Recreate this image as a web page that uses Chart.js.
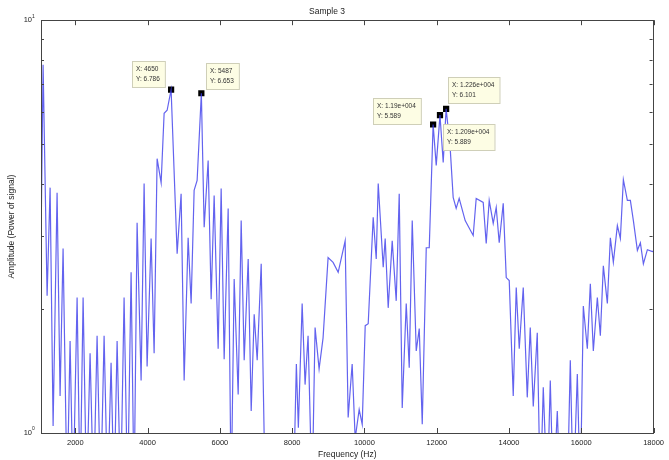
<!DOCTYPE html>
<html>
<head>
<meta charset="utf-8">
<script src="https://cdn.jsdelivr.net/npm/chart.js@4.4.0/dist/chart.umd.min.js"></script>
<style>
  html, body { margin: 0; padding: 0; background: #fff; }
</style>
</head>
<body>
<canvas id="myChart" width="669" height="460"></canvas>
<script>
// spectrum (Hz / amplitude), dips below 1 fall off the log axis
const freq = [1053, 1108, 1219, 1302, 1385, 1495, 1578, 1661, 1772, 1855, 1938, 2049, 2132, 2215, 2312, 2408, 2505, 2602, 2700, 2796,
  2893, 2989, 3072, 3156, 3253, 3349, 3446, 3543, 3626, 3709, 3820, 3903, 3986, 4097, 4180, 4263, 4374, 4457, 4540, 4650,
  4817, 4927, 5011, 5121, 5204, 5287, 5370, 5487, 5565, 5675, 5758, 5841, 5952, 6035, 6118, 6229, 6312, 6395, 6506, 6589,
  6672, 6783, 6866, 6949, 7032, 7143, 7254, 8033, 8116, 8171, 8276, 8357, 8440, 8551, 8634, 8745, 8855, 8994, 9132, 9273,
  9466, 9549, 9660, 9743, 9854, 9938, 10021, 10104, 10242, 10326, 10381, 10519, 10574, 10657, 10768, 10879, 10962, 11045, 11156, 11239,
  11322, 11433, 11516, 11599, 11710, 11793, 11900, 11986, 12090, 12179, 12260, 12371, 12455, 12538, 12621, 12787, 13009, 13092, 13286, 13369,
  13452, 13563, 13646, 13729, 13840, 13923, 14006, 14117, 14200, 14283, 14394, 14505, 14588, 14671, 14782, 14865, 14948, 15059, 15142, 15225,
  15336, 15419, 15613, 15696, 15779, 15890, 15973, 16056, 16167, 16250, 16333, 16444, 16527, 16610, 16721, 16804, 16887, 16998, 17081, 17164,
  17275, 17358, 17441, 17552, 17635, 17718, 17829, 17967, 18000];
const amp = [3.0, 7.8, 2.15, 3.93, 1.04, 3.82, 1.23, 2.80, 0.7, 1.67, 0.7, 2.13, 0.7, 2.13, 0.7, 1.56, 0.7, 1.72, 0.7, 1.72,
  0.7, 1.48, 0.7, 1.67, 0.7, 2.13, 0.7, 2.45, 0.7, 3.23, 1.34, 4.02, 1.45, 2.96, 1.56, 4.62, 4.04, 5.95, 6.05, 6.786,
  2.72, 3.80, 1.34, 2.97, 2.06, 3.87, 4.09, 6.653, 3.15, 4.57, 2.11, 3.76, 1.60, 3.91, 1.51, 3.50, 0.7, 2.36, 1.24, 3.27,
  1.50, 2.64, 1.13, 1.94, 1.50, 2.57, 0.7, 0.7, 1.47, 1.03, 2.06, 1.31, 1.72, 0.7, 1.80, 1.43, 1.70, 2.66, 2.59, 2.45,
  2.92, 1.09, 1.47, 0.97, 1.14, 1.05, 1.82, 1.84, 3.33, 2.64, 4.02, 2.52, 2.96, 2.01, 2.92, 2.09, 3.80, 1.15, 2.06, 1.44,
  3.27, 1.58, 1.79, 1.05, 2.81, 2.81, 5.589, 4.45, 5.889, 4.52, 6.101, 4.92, 3.72, 3.50, 3.70, 3.27, 3.01, 3.70, 3.62, 2.88,
  3.66, 3.22, 3.52, 2.89, 3.60, 2.38, 2.34, 1.23, 2.25, 1.60, 2.25, 1.22, 1.80, 1.16, 1.75, 0.7, 1.29, 0.7, 1.34, 0.7,
  1.13, 0.7, 0.7, 1.50, 0.7, 1.39, 0.7, 2.03, 1.60, 2.30, 1.58, 2.13, 1.72, 2.54, 2.06, 2.97, 2.59, 3.18, 2.96, 4.11,
  3.66, 3.66, 3.27, 2.77, 2.89, 2.57, 2.78, 2.75, 2.76];

// data tips
const tipFreq = [4650, 5487, 11900, 12090, 12260];
const tipAmp = [6.786, 6.653, 5.589, 5.889, 6.101];
const tipText = [
  ["X: 4650", "Y: 6.786"],
  ["X: 5487", "Y: 6.653"],
  ["X: 1.19e+004", "Y: 5.589"],
  ["X: 1.209e+004", "Y: 5.889"],
  ["X: 1.226e+004", "Y: 6.101"]
];

const xTicks = [2000, 4000, 6000, 8000, 10000, 12000, 14000, 16000, 18000];
const yMinorTicks = [2, 3, 4, 5, 6, 7, 8, 9];

// where each tip box sits next to its marker
const tipPlace = [
  { side: "left", dx: -6, vert: "above", dy: -3 },
  { side: "right", dx: 5, vert: "above", dy: -4 },
  { side: "left", dx: -12, vert: "below", dy: -27 },
  { side: "right", dx: 3, vert: "below", dy: 9 },
  { side: "right", dx: 2, vert: "above", dy: -6 }
];

const axisColor = "#444";
const textColor = "#222";
const fontFamily = "'Liberation Sans', Arial, sans-serif";

const matlabAxes = {
  id: "matlabAxes",
  afterDraw(chart) {
    const ctx = chart.ctx;
    const { left, right, top, bottom } = chart.chartArea;
    const xs = chart.scales.x;
    const ys = chart.scales.y;
    ctx.save();
    ctx.strokeStyle = axisColor;
    ctx.lineWidth = 1;
    ctx.strokeRect(Math.round(left) + 0.5, Math.round(top) + 0.5, Math.round(right - left) - 1, Math.round(bottom - top));

    ctx.beginPath();
    xTicks.forEach(v => {
      const px = Math.round(xs.getPixelForValue(v)) + 0.5;
      ctx.moveTo(px, bottom);
      ctx.lineTo(px, bottom - 5);
      ctx.moveTo(px, top);
      ctx.lineTo(px, top + 5);
    });
    yMinorTicks.forEach(v => {
      const py = Math.round(ys.getPixelForValue(v)) + 0.5;
      ctx.moveTo(left, py);
      ctx.lineTo(left + 3, py);
      ctx.moveTo(right - 1, py);
      ctx.lineTo(right - 4, py);
    });
    ctx.stroke();

    // 10^0 and 10^1 labels
    ctx.fillStyle = textColor;
    ctx.textBaseline = "middle";
    [[1, "0"], [10, "1"]].forEach(([v, e]) => {
      const py = ys.getPixelForValue(v);
      ctx.font = "5px " + fontFamily;
      ctx.textAlign = "left";
      ctx.fillText(e, 32, py - 4);
      ctx.font = "7.5px " + fontFamily;
      ctx.textAlign = "right";
      ctx.fillText("10", 32, py);
    });

    // data tip boxes
    const meta = chart.getDatasetMeta(1);
    ctx.font = "6.5px " + fontFamily;
    ctx.textAlign = "left";
    ctx.textBaseline = "middle";
    meta.data.forEach((pt, i) => {
      const lines = tipText[i];
      const w = Math.max(...lines.map(s => ctx.measureText(s).width)) + 9;
      const h = 26;
      const p = tipPlace[i];
      const bx = Math.round(p.side === "left" ? pt.x + p.dx - w : pt.x + p.dx);
      const by = Math.round(p.vert === "above" ? pt.y + p.dy - h : pt.y + p.dy);
      ctx.fillStyle = "#fdfde4";
      ctx.fillRect(bx, by, w, h);
      ctx.strokeStyle = "#cfcfb8";
      ctx.strokeRect(bx + 0.5, by + 0.5, w, h);
      ctx.fillStyle = "#333";
      ctx.fillText(lines[0], bx + 4, by + 8);
      ctx.fillText(lines[1], bx + 4, by + 18);
    });
    ctx.restore();
  }
};

const ctx = document.getElementById("myChart");

new Chart(ctx, {
  type: "line",
  data: {
    datasets: [{
      label: "Sample 3",
      data: freq.map((f, i) => ({ x: f, y: amp[i] })),
      borderColor: "rgba(60, 60, 235, 0.8)",
      borderWidth: 1.2,
      pointRadius: 0,
      tension: 0,
      fill: false
    }, {
      label: "tips",
      data: tipFreq.map((f, i) => ({ x: f, y: tipAmp[i] })),
      showLine: false,
      pointStyle: "rect",
      pointRadius: 4.4,
      pointBorderWidth: 0,
      pointBackgroundColor: "#000",
      pointBorderColor: "#000"
    }]
  },
  options: {
    responsive: false,
    animation: false,
    devicePixelRatio: 1,
    layout: { padding: { left: 0, right: 15, top: 0, bottom: 0 } },
    plugins: {
      legend: { display: false },
      tooltip: { enabled: false },
      title: {
        display: true,
        text: "Sample 3",
        color: textColor,
        font: { family: fontFamily, size: 8.5, weight: "normal" },
        padding: { top: 7, bottom: 3 }
      }
    },
    scales: {
      x: {
        type: "linear",
        min: 1050,
        max: 18000,
        afterBuildTicks: scale => { scale.ticks = xTicks.map(v => ({ value: v })); },
        afterFit: scale => { scale.height = 27; },
        grid: { display: false, drawTicks: false },
        border: { display: false },
        ticks: {
          color: textColor,
          padding: 5,
          maxRotation: 0,
          font: { family: fontFamily, size: 7.5 },
          callback: v => String(v)
        },
        title: {
          display: true,
          text: "Frequency (Hz)",
          color: textColor,
          font: { family: fontFamily, size: 8.5 },
          padding: { top: 0, bottom: 0 }
        }
      },
      y: {
        type: "logarithmic",
        min: 1,
        max: 10,
        afterFit: scale => { scale.width = 41; },
        grid: { display: false, drawTicks: false },
        border: { display: false },
        ticks: { display: false },
        title: {
          display: true,
          text: "Amplitude (Power of signal)",
          color: textColor,
          font: { family: fontFamily, size: 8.5 },
          padding: { top: 7, bottom: 0 }
        }
      }
    }
  },
  plugins: [matlabAxes]
});
</script>
</body>
</html>
